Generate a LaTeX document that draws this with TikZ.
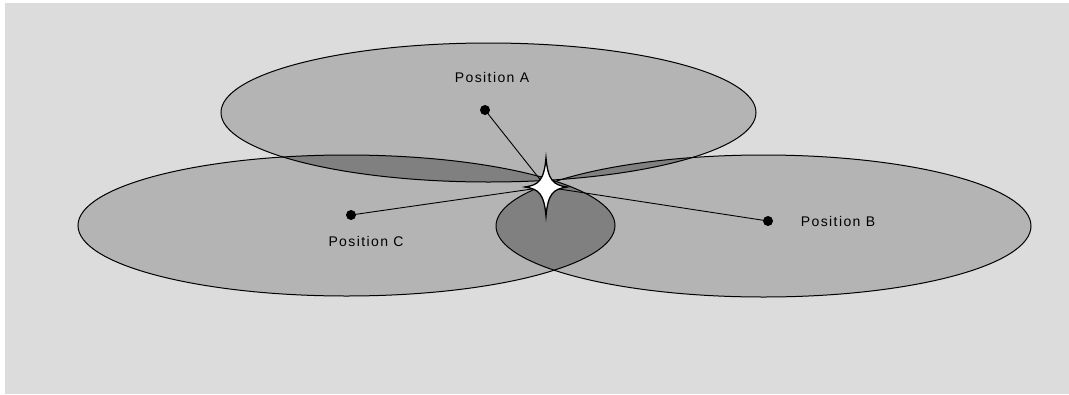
\documentclass[tikz,border=0pt]{standalone}
\usepackage{fontspec}
\setmainfont{Liberation Sans}
\newfontfamily\labfont[LetterSpace=10]{Liberation Sans}
\begin{document}
\begin{tikzpicture}[x=1pt,y=-1pt,
  zone/.style={fill=zonefill},
  zoneline/.style={draw=black,line width=1pt},
  overlap/.style={fill=overfill},
  posdot/.style={circle,fill=black,inner sep=0pt,minimum size=10pt},
  poslabel/.style={inner sep=0pt,font=\labfont\fontsize{14}{16}\selectfont},
  link/.style={draw=black,line width=0.9pt},
  starshape/.style={fill=white,draw=black,line width=1.3pt,line join=miter}]
\definecolor{bgfill}{HTML}{DCDCDC}
\definecolor{zonefill}{HTML}{B4B4B4}
\definecolor{overfill}{HTML}{808080}
\useasboundingbox (0,0) rectangle (1069,394);
\fill[white] (0,0) rectangle (1069,394);
\fill[bgfill] (5,3) rectangle (1069,394);
% zones
\def\ellA{(488.5,112.5) ellipse [x radius=267.5, y radius=69.5]}
\def\ellB{(763.5,226) ellipse [x radius=267.5, y radius=71]}
\def\ellC{(346.5,225.5) ellipse [x radius=268.5, y radius=70.5]}
\path[zone] \ellA;
\path[zone] \ellB;
\path[zone] \ellC;
\begin{scope}
  \clip \ellA;
  \path[overlap] \ellB;
  \path[overlap] \ellC;
\end{scope}
\begin{scope}
  \clip \ellB;
  \path[overlap] \ellC;
\end{scope}
\path[zoneline] \ellA;
\path[zoneline] \ellB;
\path[zoneline] \ellC;
% positions
\node[posdot] (A) at (485,110) {};
\node[posdot] (B) at (768,221) {};
\node[posdot] (C) at (351,215) {};
\coordinate (S) at (546,187);
\node[poslabel] (LA) at (492,77) {Position A};
\node[poslabel] (LB) at (838,221) {Position B};
\node[poslabel] (LC) at (366,241) {Position C};
\draw[link] (A.center) -- (S);
\draw[link] (B.center) -- (S);
\draw[link] (C.center) -- (S);
% star
\begin{scope}[shift={(S)}]
\path[starshape] (0,-29) .. controls (2,-7) and (7,-2) .. (21,0)
  .. controls (7,2) and (2,7) .. (0,29)
  .. controls (-2,7) and (-7,2) .. (-21,0)
  .. controls (-7,-2) and (-2,-7) .. (0,-29) -- cycle;
\end{scope}
\end{tikzpicture}
\end{document}
